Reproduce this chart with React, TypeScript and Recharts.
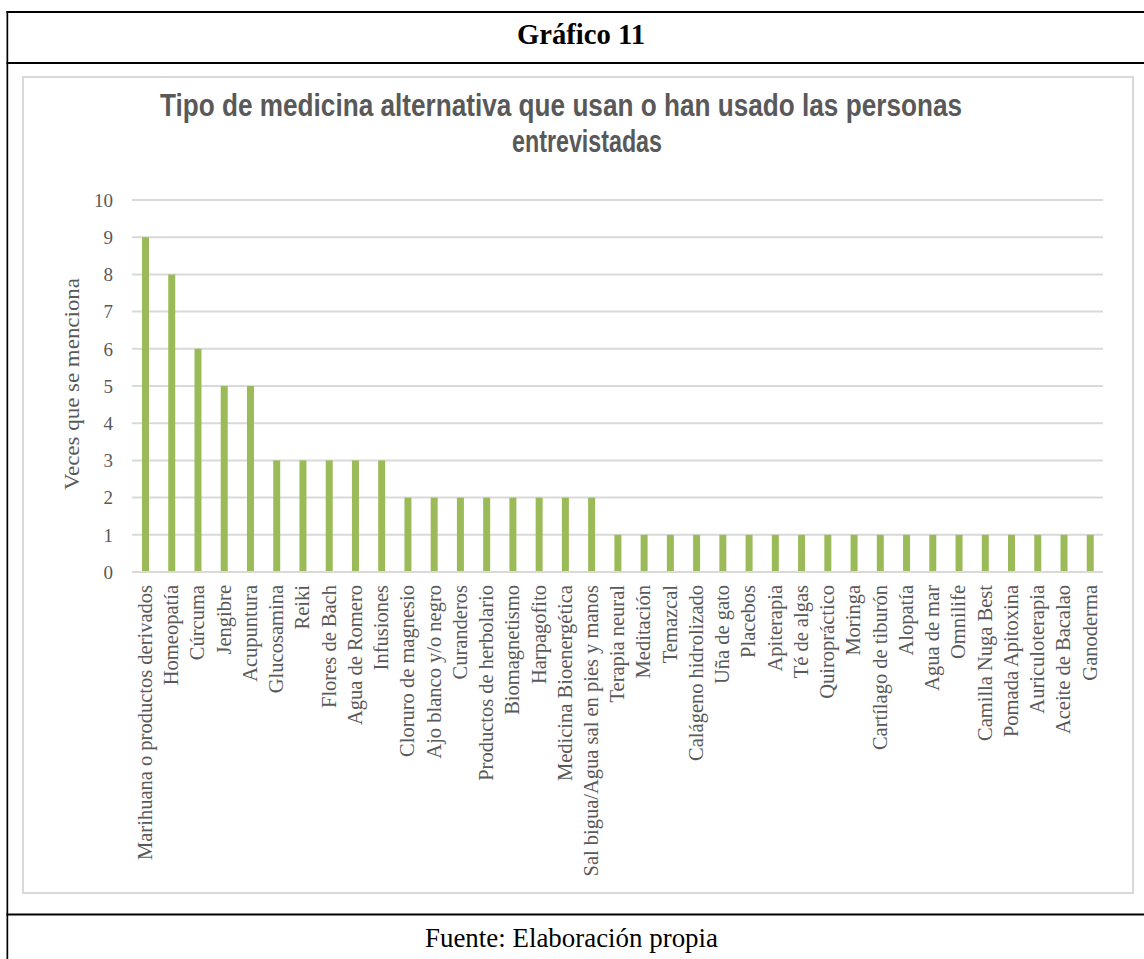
import React from 'react';
import { BarChart, Bar, XAxis, YAxis, CartesianGrid } from 'recharts';

const categories: string[] = [
  'Marihuana o productos derivados',
  'Homeopatía',
  'Cúrcuma',
  'Jengibre',
  'Acupuntura',
  'Glucosamina',
  'Reiki',
  'Flores de Bach',
  'Agua de Romero',
  'Infusiones',
  'Cloruro de magnesio',
  'Ajo blanco y/o negro',
  'Curanderos',
  'Productos de herbolario',
  'Biomagnetismo',
  'Harpagofito',
  'Medicina Bioenergética',
  'Sal bigua/Agua sal en pies y manos',
  'Terapia neural',
  'Meditación',
  'Temazcal',
  'Calágeno hidrolizado',
  'Uña de gato',
  'Placebos',
  'Apiterapia',
  'Té de algas',
  'Quiropráctico',
  'Moringa',
  'Cartílago de tiburón',
  'Alopatía',
  'Agua de mar',
  'Omnilife',
  'Camilla Nuga Best',
  'Pomada Apitoxina',
  'Auriculoterapia',
  'Aceite de Bacalao',
  'Ganoderma',
];

const mentions: number[] = [
  9, 8, 6, 5, 5, 3, 3, 3, 3, 3, 2, 2, 2, 2, 2, 2, 2, 2,
  1, 1, 1, 1, 1, 1, 1, 1, 1, 1, 1, 1, 1, 1, 1, 1, 1, 1, 1,
];

const yTicks: number[] = [0, 1, 2, 3, 4, 5, 6, 7, 8, 9, 10];

const headerText = 'Gráfico 11';
const titleLine1 = 'Tipo de medicina alternativa que usan o han usado las personas';
const titleLine2 = 'entrevistadas';
const yAxisTitle = 'Veces que se menciona';
const sourceText = 'Fuente: Elaboración propia';

const data = categories.map((name, i) => ({ name, value: mentions[i] }));

const SERIF = '"Liberation Serif", "Times New Roman", serif';
const SANS = '"Liberation Sans", Arial, sans-serif';
const GRAY = '#595959';
const GRID = '#D9D9D9';

function XTick(props: any) {
  const { x, y, payload } = props;
  return (
    <text
      x={x}
      y={y}
      dy="0.33em"
      transform={`rotate(-90 ${x} ${y})`}
      textAnchor="end"
      fill={GRAY}
      fontSize={20.5}
      fontFamily={SERIF}
    >
      {payload.value}
    </text>
  );
}

export default function App() {
  return (
    <div
      style={{
        position: 'absolute',
        left: 0,
        top: 0,
        width: 1144,
        height: 959,
        background: '#ffffff',
        overflow: 'hidden',
      }}
    >
      <div
        style={{
          position: 'absolute',
          left: 22,
          top: 76,
          width: 1112,
          height: 818,
          border: `2px solid ${GRID}`,
          boxSizing: 'border-box',
        }}
      />
      <div style={{ position: 'absolute', left: 0, top: 0 }}>
        <BarChart
          width={1144}
          height={959}
          data={data}
          margin={{ top: 200, right: 41, bottom: 87, left: 0 }}
        >
          <CartesianGrid vertical={false} stroke={GRID} strokeWidth={2} />
          <XAxis
            dataKey="name"
            interval={0}
            height={300}
            tickLine={false}
            tickSize={0}
            tickMargin={13}
            axisLine={{ stroke: GRID, strokeWidth: 2 }}
            tick={<XTick />}
          />
          <YAxis
            width={132}
            domain={[0, 10]}
            ticks={yTicks}
            interval={0}
            axisLine={false}
            tickLine={false}
            tickSize={0}
            tickMargin={19}
            tick={{ fill: GRAY, fontSize: 19, fontFamily: SERIF }}
          />
          <Bar dataKey="value" fill="#9BBB59" barSize={7} isAnimationActive={false} />
        </BarChart>
      </div>
      <svg
        width={1144}
        height={959}
        style={{ position: 'absolute', left: 0, top: 0, pointerEvents: 'none' }}
      >
        <rect x={6.5} y={11} width={1138} height={2} fill="#000" />
        <rect x={6.5} y={11} width={1.7} height={948} fill="#000" />
        <rect x={6.5} y={62} width={1138} height={2} fill="#000" />
        <rect x={6.5} y={913.5} width={1138} height={2} fill="#000" />
        <text
          x={517}
          y={44}
          fontFamily={SERIF}
          fontWeight="bold"
          fontSize={29}
          fill="#000"
          textLength={128}
          lengthAdjust="spacingAndGlyphs"
        >
          {headerText}
        </text>
        <text
          x={160}
          y={116}
          fontFamily={SANS}
          fontWeight="bold"
          fontSize={32}
          fill={GRAY}
          textLength={802}
          lengthAdjust="spacingAndGlyphs"
        >
          {titleLine1}
        </text>
        <text
          x={512}
          y={152}
          fontFamily={SANS}
          fontWeight="bold"
          fontSize={32}
          fill={GRAY}
          textLength={150}
          lengthAdjust="spacingAndGlyphs"
        >
          {titleLine2}
        </text>
        <text
          x={79}
          y={384}
          transform="rotate(-90 79 384)"
          textAnchor="middle"
          fontFamily={SERIF}
          fontSize={22}
          fill={GRAY}
          textLength={212}
          lengthAdjust="spacingAndGlyphs"
        >
          {yAxisTitle}
        </text>
        <text
          x={425}
          y={947}
          fontFamily={SERIF}
          fontSize={28}
          fill="#000"
          textLength={293}
          lengthAdjust="spacingAndGlyphs"
        >
          {sourceText}
        </text>
      </svg>
    </div>
  );
}
